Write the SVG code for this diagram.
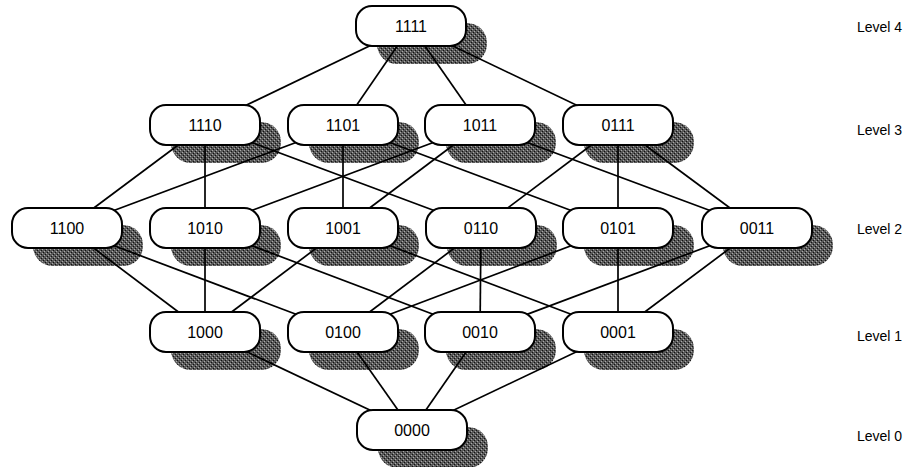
<svg xmlns="http://www.w3.org/2000/svg" width="915" height="467" viewBox="0 0 915 467">
<defs>
<pattern id="stip" width="4" height="4" patternUnits="userSpaceOnUse">
<rect width="4" height="4" fill="#585858"/>
<rect x="0" y="0" width="1" height="1" fill="#111"/>
<rect x="2" y="2" width="1" height="1" fill="#111"/>
<rect x="1" y="3" width="1" height="1" fill="#aaa"/>
<rect x="3" y="1" width="1" height="1" fill="#aaa"/>
</pattern>
<g id="nd">
<rect x="-55" y="-20" width="110" height="40" rx="16" ry="16" class="box"/>
</g>
<g id="sh">
<rect x="-34" y="-3" width="110" height="41" rx="20" ry="20" class="shadow"/>
</g>
</defs>
<style>
.box{fill:#fff;stroke:#000;stroke-width:2}
.shadow{fill:url(#stip);stroke:none}
.lbl{font-family:"Liberation Sans",Arial,sans-serif;font-size:16px;fill:#000;text-anchor:middle;dominant-baseline:central}
.lvl{font-family:"Liberation Sans",Arial,sans-serif;font-size:14px;fill:#000;dominant-baseline:central}
.edge{stroke:#000;stroke-width:1.7;fill:none}
</style>
<rect width="915" height="467" fill="#fff"/>
<g id="shadows">
<use href="#sh" x="411" y="26"/>
<use href="#sh" x="205" y="125"/>
<use href="#sh" x="343" y="125"/>
<use href="#sh" x="480" y="125"/>
<use href="#sh" x="618" y="125"/>
<use href="#sh" x="67" y="228"/>
<use href="#sh" x="205" y="228"/>
<use href="#sh" x="343" y="228"/>
<use href="#sh" x="481" y="228"/>
<use href="#sh" x="618" y="228"/>
<use href="#sh" x="757" y="228"/>
<use href="#sh" x="205" y="332"/>
<use href="#sh" x="343" y="332"/>
<use href="#sh" x="480" y="332"/>
<use href="#sh" x="618" y="332"/>
<use href="#sh" x="412" y="430"/>
</g>
<g id="connectors" class="edge">
<line x1="411" y1="26" x2="205" y2="125"/>
<line x1="411" y1="26" x2="343" y2="125"/>
<line x1="411" y1="26" x2="480" y2="125"/>
<line x1="411" y1="26" x2="618" y2="125"/>
<line x1="205" y1="125" x2="67" y2="228"/>
<line x1="205" y1="125" x2="205" y2="228"/>
<line x1="205" y1="125" x2="481" y2="228"/>
<line x1="343" y1="125" x2="67" y2="228"/>
<line x1="343" y1="125" x2="343" y2="228"/>
<line x1="343" y1="125" x2="618" y2="228"/>
<line x1="480" y1="125" x2="205" y2="228"/>
<line x1="480" y1="125" x2="343" y2="228"/>
<line x1="480" y1="125" x2="757" y2="228"/>
<line x1="618" y1="125" x2="481" y2="228"/>
<line x1="618" y1="125" x2="618" y2="228"/>
<line x1="618" y1="125" x2="757" y2="228"/>
<line x1="67" y1="228" x2="205" y2="332"/>
<line x1="67" y1="228" x2="343" y2="332"/>
<line x1="205" y1="228" x2="205" y2="332"/>
<line x1="205" y1="228" x2="480" y2="332"/>
<line x1="343" y1="228" x2="205" y2="332"/>
<line x1="343" y1="228" x2="618" y2="332"/>
<line x1="481" y1="228" x2="343" y2="332"/>
<line x1="481" y1="228" x2="480" y2="332"/>
<line x1="618" y1="228" x2="343" y2="332"/>
<line x1="618" y1="228" x2="618" y2="332"/>
<line x1="757" y1="228" x2="480" y2="332"/>
<line x1="757" y1="228" x2="618" y2="332"/>
<line x1="205" y1="332" x2="412" y2="430"/>
<line x1="343" y1="332" x2="412" y2="430"/>
<line x1="480" y1="332" x2="412" y2="430"/>
<line x1="618" y1="332" x2="412" y2="430"/>
</g>
<g id="n1111"><use href="#nd" x="411" y="26"/><text class="lbl" x="411" y="26">1111</text></g>
<g id="n1110"><use href="#nd" x="205" y="125"/><text class="lbl" x="205" y="125">1110</text></g>
<g id="n1101"><use href="#nd" x="343" y="125"/><text class="lbl" x="343" y="125">1101</text></g>
<g id="n1011"><use href="#nd" x="480" y="125"/><text class="lbl" x="480" y="125">1011</text></g>
<g id="n0111"><use href="#nd" x="618" y="125"/><text class="lbl" x="618" y="125">0111</text></g>
<g id="n1100"><use href="#nd" x="67" y="228"/><text class="lbl" x="67" y="228">1100</text></g>
<g id="n1010"><use href="#nd" x="205" y="228"/><text class="lbl" x="205" y="228">1010</text></g>
<g id="n1001"><use href="#nd" x="343" y="228"/><text class="lbl" x="343" y="228">1001</text></g>
<g id="n0110"><use href="#nd" x="481" y="228"/><text class="lbl" x="481" y="228">0110</text></g>
<g id="n0101"><use href="#nd" x="618" y="228"/><text class="lbl" x="618" y="228">0101</text></g>
<g id="n0011"><use href="#nd" x="757" y="228"/><text class="lbl" x="757" y="228">0011</text></g>
<g id="n1000"><use href="#nd" x="205" y="332"/><text class="lbl" x="205" y="332">1000</text></g>
<g id="n0100"><use href="#nd" x="343" y="332"/><text class="lbl" x="343" y="332">0100</text></g>
<g id="n0010"><use href="#nd" x="480" y="332"/><text class="lbl" x="480" y="332">0010</text></g>
<g id="n0001"><use href="#nd" x="618" y="332"/><text class="lbl" x="618" y="332">0001</text></g>
<g id="n0000"><use href="#nd" x="412" y="430"/><text class="lbl" x="412" y="430">0000</text></g>
<g id="levels">
<text class="lvl" x="857" y="27">Level 4</text>
<text class="lvl" x="857" y="130">Level 3</text>
<text class="lvl" x="857" y="229">Level 2</text>
<text class="lvl" x="857" y="336">Level 1</text>
<text class="lvl" x="857" y="436">Level 0</text>
</g>
</svg>
